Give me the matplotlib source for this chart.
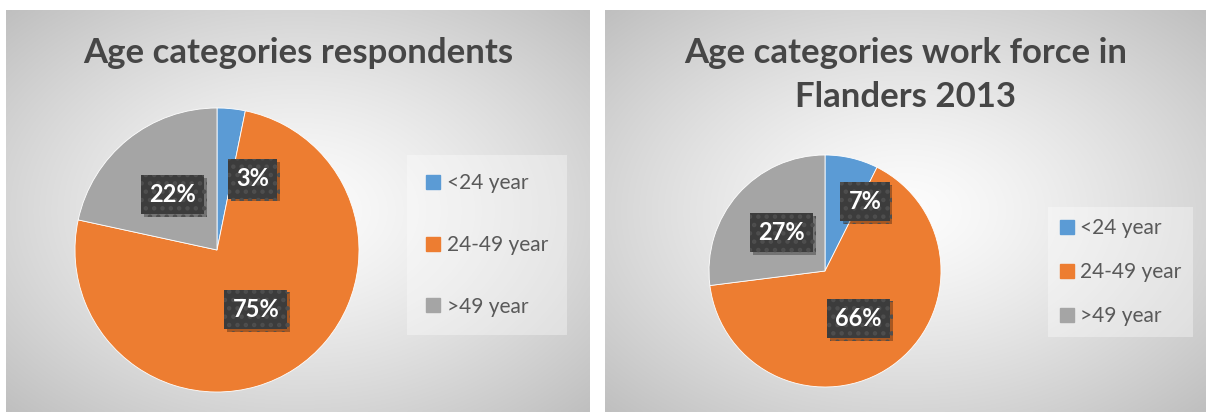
import numpy as np
import matplotlib
matplotlib.use("Agg")
import matplotlib.pyplot as plt
import matplotlib.patheffects as pe
from matplotlib.lines import Line2D

plt.rcParams['font.family'] = ['Lato', 'DejaVu Sans']
plt.rcParams['hatch.linewidth'] = 2.0

# data
categories = ['<24 year', '24-49 year', '>49 year']
colors = ['#5B9BD5', '#ED7D31', '#A5A5A5']
respondents = [3.2, 75.2, 21.6]
workforce = [7.4, 65.6, 27.0]
title1 = 'Age categories respondents'
title2 = 'Age categories work force in\nFlanders 2013'

W, H = 1206, 412
fig = plt.figure(figsize=(W / 100, H / 100), dpi=100)


def px_axes(x0, y0, x1, y1):
    # pixel box (top-left origin) -> figure axes
    return fig.add_axes([x0 / W, (H - y1) / H, (x1 - x0) / W, (y1 - y0) / H])


def panel_bg(x0, y0, x1, y1):
    ax = px_axes(x0, y0, x1, y1)
    ny, nx = 200, 300
    yy, xx = np.mgrid[-1:1:ny * 1j, -1:1:nx * 1j]
    d = np.sqrt(xx ** 2 + yy ** 2) / np.sqrt(2)
    v = 0.99 - 0.24 * d ** 1.3
    img = np.dstack([v, v, v])
    ax.imshow(img, extent=[0, 1, 0, 1], aspect='auto', interpolation='bilinear')
    ax.set_xlim(0, 1)
    ax.set_ylim(0, 1)
    ax.axis('off')
    return ax


def draw_pie(box, values, small_pos):
    ax = px_axes(*box)
    wedges, _ = ax.pie(values, colors=colors, startangle=90, counterclock=False,
                       radius=1, wedgeprops=dict(edgecolor='white', linewidth=0.6))
    ax.set_xlim(-1, 1)
    ax.set_ylim(-1, 1)
    ax.axis('off')
    total = sum(values)
    for w, v in zip(wedges, values):
        frac = v / total
        if frac < 0.1:
            r, ang = small_pos
        else:
            r, ang = 0.5, (w.theta1 + w.theta2) / 2
        x = r * np.cos(np.radians(ang))
        y = r * np.sin(np.radians(ang))
        t = ax.text(x, y, '%d%%' % round(v), ha='center', va='center',
                    color='white', fontsize=17, fontweight='bold',
                    bbox=dict(boxstyle='square,pad=0.35', facecolor='#3c3c3c',
                              edgecolor='#4e4e4e', hatch='..', linewidth=0))
        t.get_bbox_patch().set_path_effects([
            pe.SimplePatchShadow(offset=(2, -2), shadow_rgbFace='black', alpha=0.3),
            pe.Normal()])
    return ax


def add_legend(anchor_x, anchor_y, spacing, pad):
    handles = [Line2D([], [], linestyle='none', marker='s', markersize=10,
                      markerfacecolor=c, markeredgecolor=c) for c in colors]
    leg = fig.legend(handles, categories, loc='center left',
                     bbox_to_anchor=(anchor_x / W, (H - anchor_y) / H),
                     borderaxespad=0, fontsize=15, labelspacing=spacing,
                     handlelength=0.7, handletextpad=0.3, borderpad=pad,
                     frameon=True, fancybox=False, framealpha=0.35,
                     facecolor='white', edgecolor='none', labelcolor='#595959')
    return leg


# panels
ax1 = panel_bg(6, 10, 590, 412)
ax2 = panel_bg(605, 10, 1206, 412)

tstyle = dict(ha='center', va='baseline', fontsize=25, fontweight='bold',
              color='#464646')
ax1.text(0.5, (412 - 63) / 402, title1, transform=ax1.transAxes, **tstyle)
for i, line in enumerate(title2.split('\n')):
    ax2.text(0.5, (412 - 63 - 44 * i) / 402, line, transform=ax2.transAxes, **tstyle)

draw_pie((75, 108, 359, 392), respondents, (0.56, 63.4))
draw_pie((709, 155, 941, 387), workforce, (0.69, 60.0))

add_legend(407, 245, 2.0, 0.9)
add_legend(1048, 272, 1.15, 0.55)

fig.savefig('out.png', dpi=100)
